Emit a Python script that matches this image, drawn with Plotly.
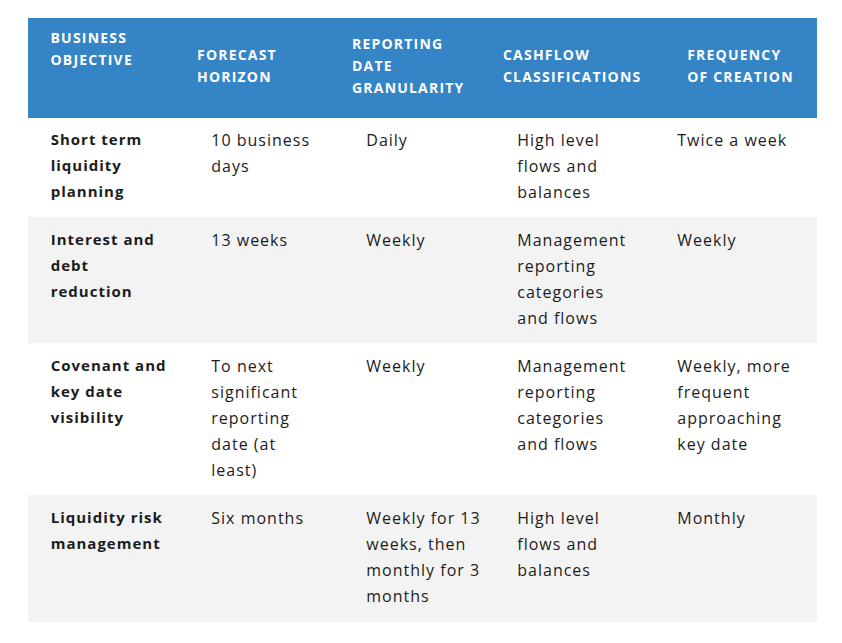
import plotly.graph_objects as go

headers = ["BUSINESS<br>OBJECTIVE", "FORECAST<br>HORIZON", "REPORTING<br>DATE<br>GRANULARITY",
           "CASHFLOW<br>CLASSIFICATIONS", "FREQUENCY<br>OF CREATION"]
objective = ["Short term<br>liquidity<br>planning", "Interest and<br>debt<br>reduction",
             "Covenant and<br>key date<br>visibility", "Liquidity risk<br>management"]
horizon = ["10 business<br>days", "13 weeks",
           "To next<br>significant<br>reporting<br>date (at<br>least)", "Six months"]
granularity = ["Daily", "Weekly", "Weekly",
               "Weekly for 13<br>weeks, then<br>monthly for 3<br>months"]
classifications = ["High level<br>flows and<br>balances",
                   "Management<br>reporting<br>categories<br>and flows",
                   "Management<br>reporting<br>categories<br>and flows",
                   "High level<br>flows and<br>balances"]
frequency = ["Twice a week", "Weekly",
             "Weekly, more<br>frequent<br>approaching<br>key date", "Monthly"]

columns = [objective, horizon, granularity, classifications, frequency]
col_widths = [161, 155, 151, 160, 161]
header_top = [16, 32, 21.5, 32, 32]
header_pad = [3, 0, 0, 0, 5]

W, H = 842, 643
BODY_MARGIN = 8  # default page margin around the plot
FONT = "Open Sans, Lato, sans-serif"


def strut(px):
    # invisible spacer used to pad the text block inside a cell
    return f"<span style='font-size:{px}px'>&nbsp;</span>"


def fmt(text, size, spacing, npad, weight=False, top=None, bottom=None, pad_spacing=None):
    lines = text.split("<br>")
    style = f"font-size:{size}px;letter-spacing:{spacing}px"
    out = []
    for ln in lines:
        s = ln
        if pad_spacing is None:
            s = "&nbsp;" * npad + s
        if weight:
            s = f"<b>{s}</b>"
        s = f"<span style='{style}'>{s}</span>"
        if pad_spacing is not None and npad:
            s = (f"<span style='font-size:{size}px;letter-spacing:{pad_spacing}px'>"
                 + "&nbsp;" * npad + "</span>" + s)
        out.append(s)
    if top:
        out[0] = out[0] + strut(top)
    if len(lines) == 1:
        out.append("")
    if bottom:
        out[-1] += strut(bottom)
    return "<br>".join(out)


head_vals = [fmt(h, 14, 1.2, p, weight=True, top=t)
             for h, p, t in zip(headers, header_pad, header_top)]

cell_vals = []
for i, col in enumerate(columns):
    if i == 0:
        cell_vals.append([fmt(v, 15, 1.0, 3, weight=True, top=19, bottom=38) for v in col])
    else:
        cell_vals.append([fmt(v, 16, 1.0, 3, top=20, bottom=38, pad_spacing=0.6) for v in col])

row_fill = ["#ffffff", "#f3f3f3", "#ffffff", "#f3f3f3"]
fills = [row_fill for _ in columns]

x0 = (28 - BODY_MARGIN) / W
x1 = (816 - BODY_MARGIN) / W
ytop = 1 - (18 - BODY_MARGIN) / H

fig = go.Figure(go.Table(
    domain=dict(x=[x0, x1], y=[0, ytop]),
    columnwidth=col_widths,
    header=dict(
        values=head_vals,
        fill_color="#3584c6",
        line=dict(color="#3584c6", width=1),
        font=dict(family=FONT, size=17, color="white"),
        align="left",
        height=99,
    ),
    cells=dict(
        values=cell_vals,
        fill_color=fills,
        line=dict(color=fills, width=1),
        font=dict(family=FONT, size=20, color="#1c1c1c"),
        align="left",
        height=40,
    ),
))

fig.update_layout(
    width=W, height=H,
    margin=dict(l=0, r=0, t=0, b=0),
    paper_bgcolor="white",
)

fig.write_html("out.html")
